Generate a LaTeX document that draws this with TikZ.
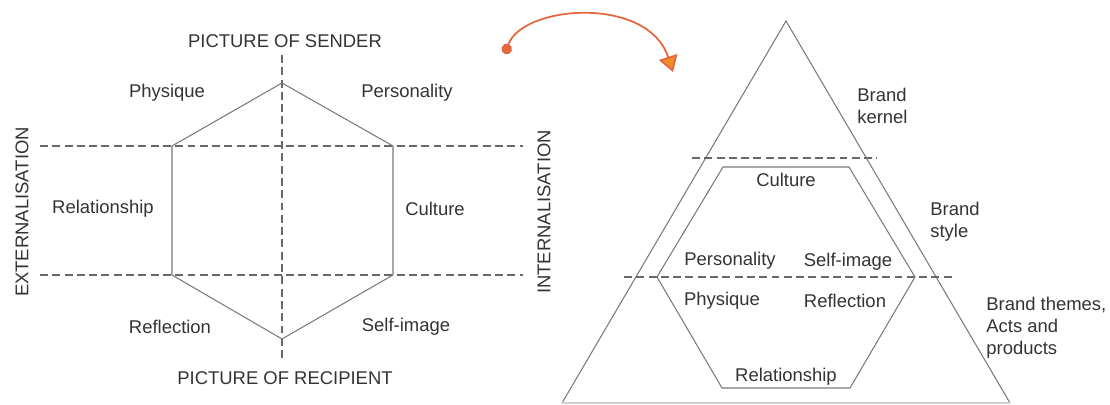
\documentclass[tikz,border=0pt]{standalone}
\usepackage{fontspec}
\setmainfont{Liberation Sans}
\usetikzlibrary{arrows.meta}

\definecolor{edgegray}{HTML}{7A7A7A}
\definecolor{txtgray}{HTML}{333333}
\definecolor{arcred}{HTML}{E4683F}
\definecolor{arcorange}{HTML}{F28C28}

\begin{document}
\begin{tikzpicture}[x=0.02cm, y=-0.02cm,
font=\fontsize{10.5}{12.5}\selectfont, text=txtgray,
axis/.style={draw=edgegray!85!black, line width=0.6pt, dash pattern=on 4.5pt off 2.5pt},
face/.style={draw=edgegray, line width=0.6pt},
brand/.style={anchor=west, align=left, inner sep=0pt}]

\useasboundingbox (0,0) rectangle (1110,405);

%Prism axes
\coordinate (vtop) at (282,55);
\coordinate (vbot) at (282,360);
\coordinate (hl1) at (40,146);
\coordinate (hr1) at (523,146);
\coordinate (hl2) at (40,275);
\coordinate (hr2) at (523,275);
\draw[axis] (vtop) -- (vbot);
\draw[axis] (hl1) -- (hr1);
\draw[axis] (hl2) -- (hr2);

%Prism hexagon
\coordinate (pt) at (282,83);
\coordinate (pur) at (393,146);
\coordinate (plr) at (393,275);
\coordinate (pb) at (282,339);
\coordinate (pll) at (172,275);
\coordinate (pul) at (172,146);
\draw[face] (pt) -- (pur) -- (plr) -- (pb) -- (pll) -- (pul) -- cycle;

\node (sender) at (285,41) {PICTURE OF SENDER};
\node (recipient) at (285,378) {PICTURE OF RECIPIENT};
\node[rotate=90] (ext) at (22,212) {EXTERNALISATION};
\node[rotate=90] (int) at (544,212) {INTERNALISATION};
\node (physique) at (167,93) {Physique};
\node (personality) at (407,93) {Personality};
\node (relationship) at (103,209) {Relationship};
\node (culture) at (435,209) {Culture};
\node (reflection) at (170,327) {Reflection};
\node (selfimage) at (406,327) {Self-image};

%Arrow
\coordinate (from) at (505,54);
\coordinate (to) at (673,72);
\draw[arcred, line width=1pt, {Circle[length=6pt,fill=arcred]}-{Triangle[length=9pt,width=11pt,fill=arcorange]}]
  (from) .. controls (522,5) and (648,-5) .. (to);

%Pyramid
\coordinate (apex) at (786,21);
\coordinate (bl) at (562,403);
\coordinate (br) at (1010,403);
\draw[face] (bl) -- (apex) -- (br);
\draw[face, draw=edgegray!35] (bl) -- (br);
\draw[axis] (692,158) -- (877,158);
\draw[axis] (624,277) -- (952,277);

%Inner hexagon
\coordinate (qtl) at (723,167);
\coordinate (qtr) at (849,167);
\coordinate (qr) at (915,277);
\coordinate (qbr) at (850,388);
\coordinate (qbl) at (722,388);
\coordinate (ql) at (657,277);
\draw[face] (qtl) -- (qtr) -- (qr) -- (qbr) -- (qbl) -- (ql) -- cycle;

\node (culture2) at (786,180) {Culture};
\node (personality2) at (730,261) {Personality};
\node (selfimage2) at (848,262) {Self-image};
\node (physique2) at (722,301) {Physique};
\node (reflection2) at (845,301) {Reflection};
\node (relationship2) at (786,377) {Relationship};

\node[brand] (kernel) at (857,106) {Brand\\kernel};
\node[brand] (style) at (930,222) {Brand\\style};
\node[brand] (themes) at (986,328) {Brand themes,\\Acts and\\products};
\end{tikzpicture}
\end{document}
